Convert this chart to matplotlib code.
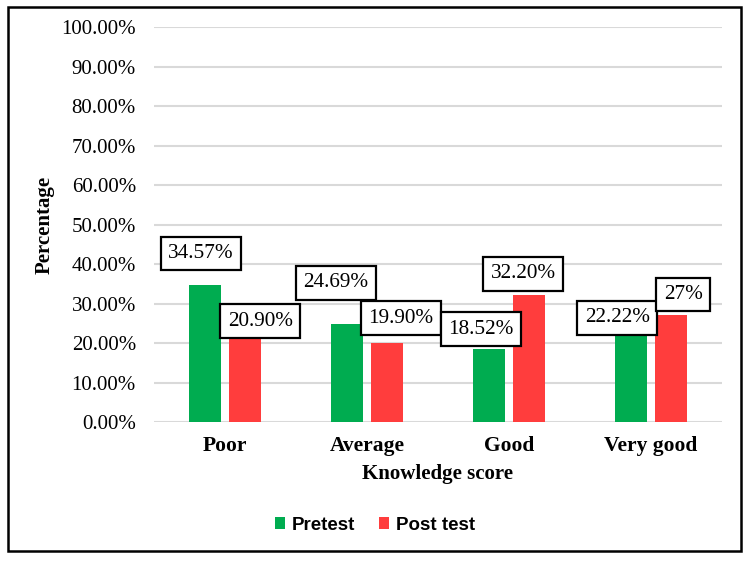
import matplotlib
matplotlib.use("Agg")
import matplotlib.pyplot as plt
from matplotlib.patches import Rectangle
import numpy as np

# data
categories = ["Poor", "Average", "Good", "Very good"]
pretest = [34.57, 24.69, 18.52, 22.22]
posttest = [20.90, 19.90, 32.20, 27.0]
pre_labels = ["34.57%", "24.69%", "18.52%", "22.22%"]
post_labels = ["20.90%", "19.90%", "32.20%", "27%"]

# label box offsets from bar top, in points (hand placed like in the original)
pre_offsets = [(-3, 23), (-8, 30), (-6, 14), (-10, 12)]
post_offsets = [(11, 13), (10, 18), (-4, 15), (9, 15)]

green = "#00AC50"
red = "#FF3D3D"
serif = "Liberation Serif"

fig = plt.figure(figsize=(7.5, 5.62), dpi=100)
ax = fig.add_axes([0.2053, 0.2491, 0.7573, 0.7028])

x = np.arange(len(categories))
w = 0.225
ax.bar(x - 0.14, np.array(pretest) / 100, w, color=green, label="Pretest", zorder=2)
ax.bar(x + 0.14, np.array(posttest) / 100, w, color=red, label="Post test", zorder=2)

box = dict(boxstyle="square,pad=0.35", fc="white", ec="black", lw=1.6)
for i in range(len(categories)):
    ax.annotate(pre_labels[i], (x[i] - 0.14, pretest[i] / 100), xytext=pre_offsets[i],
                textcoords="offset points", ha="center", va="center",
                fontsize=15.3, family=serif, bbox=box, zorder=4)
    ax.annotate(post_labels[i], (x[i] + 0.14, posttest[i] / 100), xytext=post_offsets[i],
                textcoords="offset points", ha="center", va="center",
                fontsize=15.3, family=serif, bbox=box, zorder=4)

ax.set_xlim(-0.5, 3.5)
ax.set_ylim(0, 1.0)
ax.set_yticks(np.arange(0, 1.01, 0.1))
ax.set_yticklabels(["%.2f%%" % (v * 100) for v in np.arange(0, 1.01, 0.1)],
                   family=serif, fontsize=15)
ax.set_xticks(x)
ax.set_xticklabels(categories, family=serif, fontsize=15.5, fontweight="bold")
ax.tick_params(axis="y", length=0, pad=13)
ax.tick_params(axis="x", length=0, pad=10)
ax.grid(axis="y", color="#D9D9D9", lw=1.5, zorder=0)
for s in ax.spines.values():
    s.set_visible(False)

ax.set_ylabel("Percentage", family=serif, fontsize=15, fontweight="bold")
ax.yaxis.set_label_coords(-0.175, 0.5)
fig.text(438 / 750, 1 - 474 / 562, "Knowledge score", family=serif, fontsize=15,
         fontweight="bold", ha="center", va="center")

fig.legend(loc="center", bbox_to_anchor=(0.5, 1 - 525 / 562), ncol=2, frameon=False,
           prop={"family": "Liberation Sans", "weight": "bold", "size": 13.5},
           handlelength=0.55, handleheight=0.55, handletextpad=0.35, columnspacing=1.25)

# outer frame
fig.patches.append(Rectangle((8 / 750, 1 - 551 / 562), 733 / 750, 544 / 562,
                             transform=fig.transFigure, fill=False, ec="black", lw=1.8))

fig.savefig("out.png", dpi=100)
